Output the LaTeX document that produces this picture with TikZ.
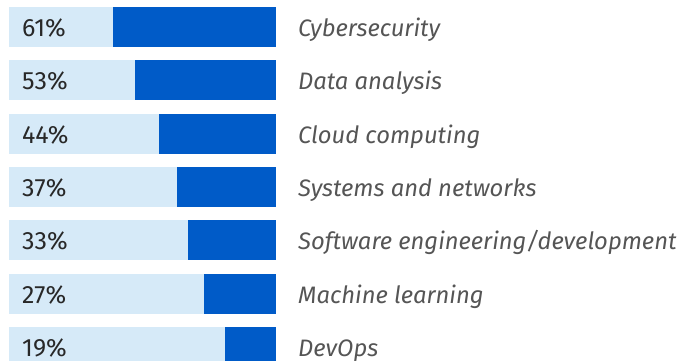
\documentclass[tikz,border=0pt]{standalone}
\usepackage{fontspec}
\setmainfont{Fira Sans}
\usetikzlibrary{positioning}
\definecolor{barlight}{RGB}{214,234,248}
\definecolor{bardark}{RGB}{0,91,200}
\definecolor{pcttext}{RGB}{40,40,40}
\definecolor{labeltext}{RGB}{85,85,85}
\tikzstyle{track} = [rectangle, inner sep=0pt, minimum width=267pt, minimum height=40pt, fill=barlight, anchor=west]
\tikzstyle{share} = [rectangle, inner sep=0pt, minimum height=40pt, fill=bardark, anchor=east]
\tikzstyle{pct} = [inner sep=0pt, anchor=base west, font=\fontsize{25}{28}\selectfont, text=pcttext]
\tikzstyle{skill} = [inner sep=0pt, anchor=base west, font=\fontsize{23.8}{27}\selectfont\itshape, text=labeltext]

\begin{document}
\begin{tikzpicture}[x=1pt, y=-1pt]

% Frame
\useasboundingbox (0,0) rectangle (681,360);
\clip (0,0) rectangle (681,360);

% Cybersecurity
\node[track] (track1) at (9,27) {};
\node[share, minimum width={0.61*267pt}] (share1) at (track1.east) {};
\node[pct] (pct1) at (22,36) {61\%};
\node[skill] (skill1) at (298,36) {Cybersecurity};

% Data analysis
\node[track] (track2) at (9,80) {};
\node[share, minimum width={0.53*267pt}] (share2) at (track2.east) {};
\node[pct] (pct2) at (22,89) {53\%};
\node[skill] (skill2) at (298,89) {Data analysis};

% Cloud computing
\node[track] (track3) at (9,134) {};
\node[share, minimum width={0.44*267pt}] (share3) at (track3.east) {};
\node[pct] (pct3) at (22,143) {44\%};
\node[skill] (skill3) at (298,143) {Cloud computing};

% Systems and networks
\node[track] (track4) at (9,187) {};
\node[share, minimum width={0.37*267pt}] (share4) at (track4.east) {};
\node[pct] (pct4) at (22,196) {37\%};
\node[skill] (skill4) at (298,196) {Systems and networks};

% Software engineering
\node[track] (track5) at (9,240) {};
\node[share, minimum width={0.33*267pt}] (share5) at (track5.east) {};
\node[pct] (pct5) at (22,249) {33\%};
\node[skill] (skill5) at (298,249) {Software engineering/development};

% Machine learning
\node[track] (track6) at (9,294) {};
\node[share, minimum width={0.27*267pt}] (share6) at (track6.east) {};
\node[pct] (pct6) at (22,303) {27\%};
\node[skill] (skill6) at (298,303) {Machine learning};

% DevOps
\node[track] (track7) at (9,347) {};
\node[share, minimum width={0.19*267pt}] (share7) at (track7.east) {};
\node[pct] (pct7) at (22,356) {19\%};
\node[skill] (skill7) at (298,356) {DevOps};

\end{tikzpicture}
\end{document}
